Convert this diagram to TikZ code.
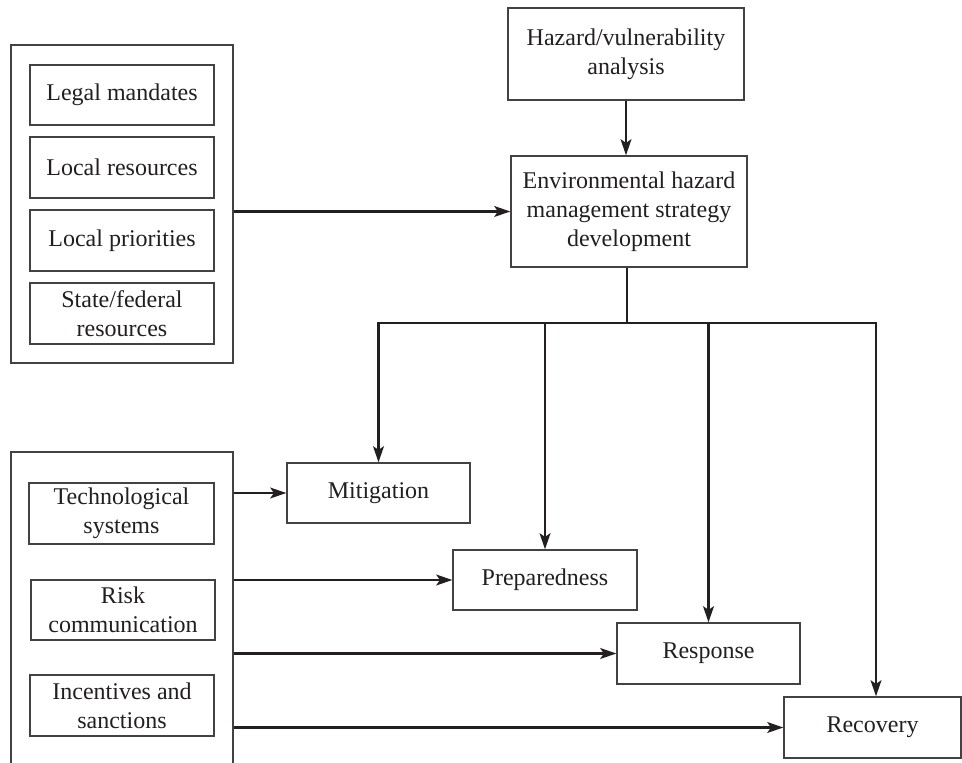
\documentclass[tikz,border=0pt]{standalone}
\usepackage{fontspec}
\setmainfont{Liberation Serif}
\usetikzlibrary{arrows.meta}
\definecolor{ink}{HTML}{231F20}
\tikzset{
  box/.style={draw=ink!85, line width=0.7pt, rectangle, align=center, inner sep=1pt,
              text=ink, font=\fontsize{12}{14.5}\selectfont},
  frame/.style={draw=ink!85, line width=0.7pt, rectangle, inner sep=0pt},
  conn/.style={draw=ink, line width=1.2pt},
  arr/.style={conn, -{Stealth[length=8pt,width=5.4pt,inset=1.8pt]}}
}
\begin{document}
\begin{tikzpicture}[x=0.5pt, y=-0.5pt]
  \path[use as bounding box, clip] (0,0) rectangle (962,763);
  \fill[white] (0,0) rectangle (962,763);

  % input group: mandates and resources
  \node[frame, minimum width=111pt, minimum height=159pt] (outT) at (122,204) {};
  \node[box, minimum width=92pt, minimum height=30pt] (legal) at (122,95) {Legal mandates};
  \node[box, minimum width=92pt, minimum height=30.5pt] (locres) at (122,167.5) {Local resources};
  \node[box, minimum width=92pt, minimum height=30.5pt] (locpri) at (122,240.5) {Local priorities};
  \node[box, minimum width=92pt, minimum height=30.5pt] (state) at (122,313.5) {State/federal\\resources};

  % strategy column
  \node[box, minimum width=118pt, minimum height=46pt] (hazard) at (626,54) {Hazard/vulnerability\\analysis};
  \node[box, minimum width=118pt, minimum height=55.5pt] (env) at (629,211.5) {Environmental hazard\\management strategy\\development};

  % phases
  \node[box, minimum width=91.5pt, minimum height=30pt] (mitig) at (378.5,493) {Mitigation};
  \node[box, minimum width=92pt, minimum height=30pt] (prep) at (545,580) {Preparedness};
  \node[box, minimum width=91.5pt, minimum height=30.5pt] (resp) at (708.5,653.5) {Response};
  \node[box, minimum width=88.5pt, minimum height=30.5pt] (recov) at (872.5,727.5) {Recovery};

  % tools group (runs past the lower edge)
  \node[frame, minimum width=111pt, minimum height=169pt] (outB) at (122,621) {};
  \node[box, minimum width=92.5pt, minimum height=30.5pt] (tech) at (121.5,513.5) {Technological\\systems};
  \node[box, minimum width=92pt, minimum height=30pt] (risk) at (123,610) {Risk\\communication};
  \node[box, minimum width=92pt, minimum height=30.5pt] (incent) at (122,705.5) {Incentives and\\sanctions};

  % connectors
  \draw[arr] (hazard.south) -- (hazard.south |- env.north);
  \draw[arr] (env.west -| outT.east) -- (env.west);

  \coordinate (bus) at (627,323);
  \coordinate (recovtop) at ([xshift=1.75pt]recov.north);
  \draw[conn] (bus |- env.south) -- (bus);
  \draw[arr] (bus) -| (mitig.north);
  \draw[arr] (bus) -| (recovtop);
  \draw[arr] (prep.north |- bus) -- (prep.north);
  \draw[arr] (resp.north |- bus) -- (resp.north);

  \draw[arr] (mitig.west -| outB.east) -- (mitig.west);
  \draw[arr] (prep.west -| outB.east) -- (prep.west);
  \draw[arr] (resp.west -| outB.east) -- (resp.west);
  \draw[arr] (recov.west -| outB.east) -- (recov.west);
\end{tikzpicture}
\end{document}
